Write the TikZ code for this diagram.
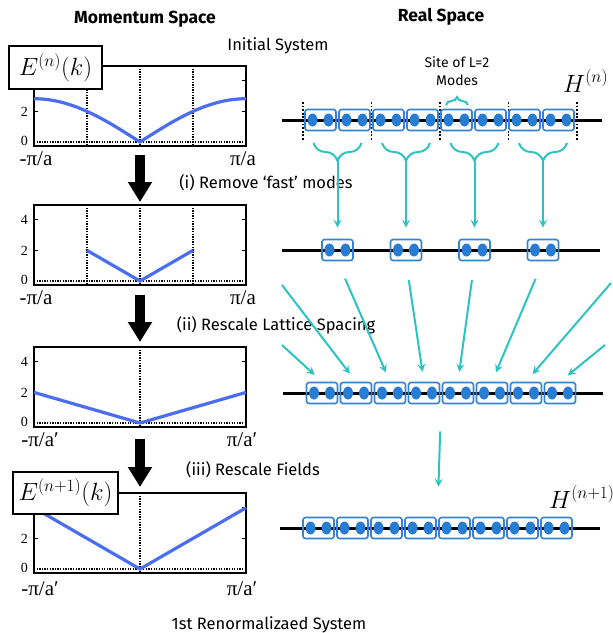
\documentclass[tikz,border=0pt]{standalone}
\usepackage{fontspec}
\setmainfont{Fira Sans}
\newfontfamily\tms{Liberation Serif}
\usetikzlibrary{arrows.meta,decorations.pathreplacing,calc}

\definecolor{dotblue}{RGB}{40,125,210}
\definecolor{boxblue}{RGB}{55,130,205}
\definecolor{curveblue}{RGB}{75,110,240}
\definecolor{tealarr}{RGB}{45,195,195}

\tikzset{
	plotframe/.style={line width=1.5pt},
	gridline/.style={line width=1.3pt, dash pattern=on 1.3pt off 1.3pt},
	dispcurve/.style={curveblue, line width=3.2pt},
	axtick/.style={line width=1pt},
	ticklab/.style={font=\tms\fontsize{14}{14}\selectfont, anchor=east, inner sep=0pt},
	kaxis/.style={font=\tms\fontsize{21}{21}\selectfont, inner sep=0pt},
	elabel/.style={draw, line width=1.5pt, fill=white, inner sep=2pt, font=\fontsize{26}{26}\selectfont},
	bigarrow/.style={line width=10pt, -{Triangle[length=20pt,width=23pt]}},
	chainline/.style={line width=3pt},
	sepline/.style={line width=1.8pt, dash pattern=on 1.8pt off 1.8pt},
	pairbox/.style={draw=boxblue, line width=1.6pt, rounded corners=2.5pt, minimum width=31pt, minimum height=21pt, inner sep=0pt},
	tealarrow/.style={tealarr, line width=2pt, -{Stealth[length=8pt,width=8pt,inset=3pt]}},
	curly/.style={tealarr, line width=2pt, decorate, decoration={brace, amplitude=#1}},
	heading/.style={font=\bfseries\fontsize{17.5}{17.5}\selectfont},
	steptext/.style={font=\fontsize{16.5}{16.5}\selectfont},
}

\newcommand\sitepair[3]{%
	\node[pairbox] (#1) at (#2,#3) {};
	\fill[dotblue] ($(#1.center)+(-8,0)$) ellipse (5pt and 6.5pt);
	\fill[dotblue] ($(#1.center)+(8,0)$) ellipse (5pt and 6.5pt);
}

\begin{document}
\begin{tikzpicture}[x=1pt,y=-1pt]
	\useasboundingbox (0,0) rectangle (613,633);
	% headings
	\node[heading] (mom) at (145,19) {Momentum Space};
	\node[heading] (real) at (441,17) {Real Space};
	\node[steptext] (init) at (278,46) {Initial System};
	\node[steptext] (ren) at (269,625) {1st Renormalizaed System};
	
	% plot 1
	\begin{scope}[shift={(0,66)}]
		\draw[plotframe] (34,0) rectangle (246,80);
		\foreach \xx in {87,140,193} \draw[gridline] (\xx,0) -- (\xx,80);
		\draw[gridline] (34,76) -- (246,76);
		\foreach \yy in {45.4,14.8} {\draw[axtick] (34,\yy) -- (38,\yy); \draw[axtick] (246,\yy) -- (242,\yy);}
		\draw[dispcurve] plot[domain=-1:1, samples=61] ({140+106*\x}, {76-15.3*2.83*sin(90*abs(\x))});
		\node[ticklab] (p1t2) at (28,45.4) {2};
		\node[ticklab] (p1t0) at (28,75) {0};
		\node[kaxis] (p1l) at (36,92.5) {-π/a};
		\node[kaxis] (p1r) at (243,92.5) {π/a};
		\coordinate (p1b) at (140,80);
	\end{scope}
	\node[elabel, minimum width=93pt, minimum height=43pt] (e1) at (55.5,67.5) {$E^{(n)}(k)$};
	
	% plot 2
	\begin{scope}[shift={(0,205)}]
		\draw[plotframe] (34,0) rectangle (246,80);
		\foreach \xx in {87,140,193} \draw[gridline] (\xx,0) -- (\xx,80);
		\draw[gridline] (34,76) -- (246,76);
		\foreach \yy in {45.4,14.8} {\draw[axtick] (34,\yy) -- (38,\yy); \draw[axtick] (246,\yy) -- (242,\yy);}
		\draw[dispcurve] (87,45.4) -- (140,76) -- (193,45.4);
		\node[ticklab] (p2t4) at (28,14.8) {4};
		\node[ticklab] (p2t2) at (28,45.4) {2};
		\node[ticklab] (p2t0) at (28,75) {0};
		\node[kaxis] (p2l) at (36,92.5) {-π/a};
		\node[kaxis] (p2r) at (243,92.5) {π/a};
		\coordinate (p2t) at (140,0);
		\coordinate (p2b) at (140,80);
	\end{scope}
	
	% plot 3
	\begin{scope}[shift={(0,347)}]
		\draw[plotframe] (34,0) rectangle (246,80);
		\draw[gridline] (140,0) -- (140,80);
		\draw[gridline] (34,76) -- (246,76);
		\foreach \yy in {45.4,14.8} {\draw[axtick] (34,\yy) -- (38,\yy); \draw[axtick] (246,\yy) -- (242,\yy);}
		\draw[dispcurve] (34,45.4) -- (140,76) -- (246,45.4);
		\node[ticklab] (p3t4) at (28,14.8) {4};
		\node[ticklab] (p3t2) at (28,45.4) {2};
		\node[ticklab] (p3t0) at (28,75) {0};
		\node[kaxis] (p3l) at (40,92.5) {-π/a′};
		\node[kaxis] (p3r) at (242,92.5) {π/a′};
		\coordinate (p3t) at (140,0);
		\coordinate (p3b) at (140,80);
	\end{scope}
	
	% plot 4
	\begin{scope}[shift={(0,493)}]
		\draw[plotframe] (34,0) rectangle (246,80);
		\draw[gridline] (140,0) -- (140,80);
		\draw[gridline] (34,76) -- (246,76);
		\foreach \yy in {45.4,14.8} {\draw[axtick] (34,\yy) -- (38,\yy); \draw[axtick] (246,\yy) -- (242,\yy);}
		\draw[dispcurve] (34,14.8) -- (140,76) -- (246,14.8);
		\node[ticklab] (p4t2) at (28,45.4) {2};
		\node[ticklab] (p4t0) at (28,75) {0};
		\node[kaxis] (p4l) at (40,96) {-π/a′};
		\node[kaxis] (p4r) at (242,96) {π/a′};
		\coordinate (p4t) at (140,0);
	\end{scope}
	\node[elabel, minimum width=105pt, minimum height=42pt] (e4) at (65.5,493) {$E^{(n+1)}(k)$};
	
	% steps
	\draw[bigarrow, shorten <=9pt, shorten >=3pt] (p1b) -- (p2t);
	\draw[bigarrow, shorten <=10pt, shorten >=5pt] (p2b) -- (p3t);
	\draw[bigarrow, shorten <=12pt, shorten >=6pt] (p3b) -- (p4t);
	\node[steptext] (st1) at (266,183) {(i) Remove `fast' modes};
	\node[steptext] (st2) at (276,325) {(ii) Rescale Lattice Spacing};
	\node[steptext] (st3) at (253,470) {(iii) Rescale Fields};
	
	% real space, chain 1
	\draw[chainline] (282,120) -- (602,120);
	\foreach \xx in {303,371.5,440,508.5,577} \draw[sepline] (\xx,102) -- (\xx,140);
	\foreach \i in {0,...,7} {\sitepair{a\i}{320.5+34*\i}{120}}
	\node[anchor=base west, inner sep=0pt, font=\fontsize{25}{25}\selectfont] (hn) at (563,92) {$H^{(n)}$};
	\node[align=center, font=\fontsize{14}{18}\selectfont] (site) at (457,71) {Site of L=2\\Modes};
	\draw[curly=8pt] (446,105) -- (468,105);
	
	% chain 2
	\draw[chainline] (282,250) -- (600,250);
	\foreach \j in {0,...,3} {
		\sitepair{c\j}{337.5+68.5*\j}{250}
		\draw[curly=18pt] (337.5+68.5*\j+24,143) -- (337.5+68.5*\j-24,143);
		\coordinate (b\j) at (337.5+68.5*\j,161);
		\draw[tealarrow, shorten >=11pt] (b\j) -- (c\j.north);
	}
	
	% chain 3
	\draw[chainline] (283,393) -- (603,393);
	\foreach \i in {0,...,7} {\sitepair{d\i}{322+34*\i}{393}}
	\coordinate (s1) at (282,345);
	\coordinate (s2) at (282,285);
	\coordinate (s7) at (611,283);
	\coordinate (s8) at (605,345);
	\draw[tealarrow, shorten >=10pt] (s1) -- (d0.north);
	\draw[tealarrow, shorten >=10pt] (s2) -- (d1.north);
	\draw[tealarrow, shorten <=19pt, shorten >=10pt] (c0.south) -- (d2.north);
	\draw[tealarrow, shorten <=19pt, shorten >=10pt] (c1.south) -- (d3.north);
	\draw[tealarrow, shorten <=19pt, shorten >=10pt] (c2.south) -- (d4.north);
	\draw[tealarrow, shorten <=19pt, shorten >=10pt] (c3.south) -- (d5.north);
	\draw[tealarrow, shorten >=10pt] (s7) -- (d6.north);
	\draw[tealarrow, shorten >=10pt] (s8) -- (d7.north);
	
	% chain 4
	\draw[chainline] (280,528) -- (600,528);
	\foreach \i in {0,...,7} {\sitepair{e\i}{318.5+34*\i}{528}}
	\node[anchor=base west, inner sep=0pt, font=\fontsize{25}{25}\selectfont] (hn1) at (549,508) {$H^{(n+1)}$};
	\coordinate (m3) at ($(d3.south)!0.5!(d4.south)$);
	\coordinate (m4) at ($(e3.north)!0.5!(e4.north)$);
	\draw[tealarrow, shorten <=27pt, shorten >=30pt] (m3) -- (m4);
\end{tikzpicture}
\end{document}
